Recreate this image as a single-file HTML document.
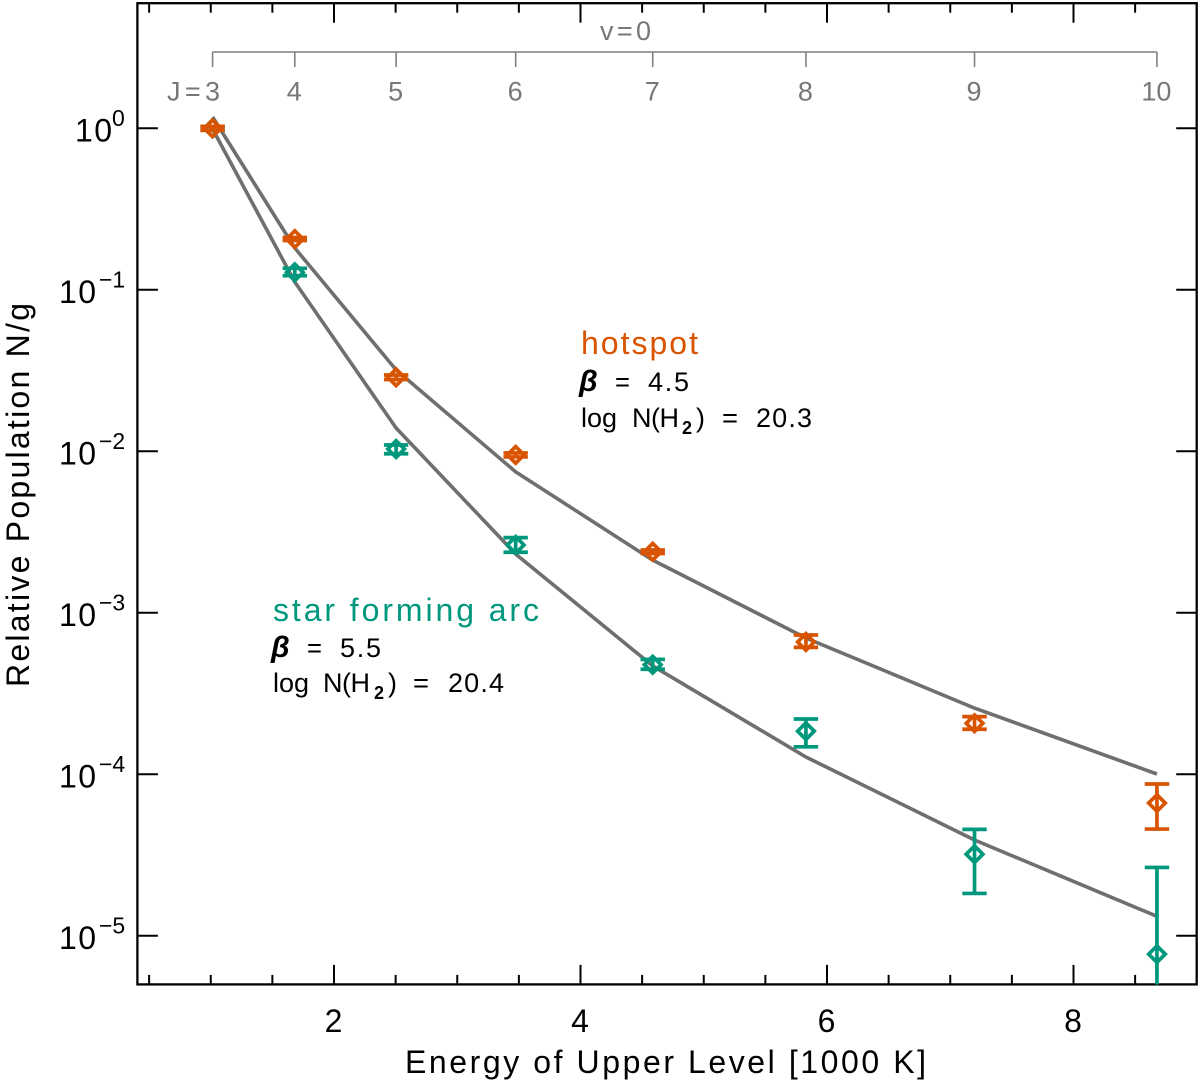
<!DOCTYPE html>
<html lang="en">
<head>
<meta charset="utf-8">
<title>H2 relative population chart</title>
<style>
html,body{margin:0;padding:0;background:#fff;width:1200px;height:1082px;overflow:hidden}
svg{display:block}
text{font-family:"Liberation Sans",sans-serif}
</style>
</head>
<body>
<svg id="chart" xmlns="http://www.w3.org/2000/svg" width="1200" height="1082" viewBox="0 0 1200 1082">
  <defs>
    <clipPath id="plot-clip"><rect x="137" y="3" width="1060" height="981.5"></rect></clipPath>
  </defs>
  <rect x="137.4" y="3.2" width="1059.3" height="981.2" fill="none" stroke="#000" stroke-width="2.3"></rect>
  <g id="ticks"></g>
  <g id="tick-labels"></g>
  <g id="j-scale"></g>
  <text x="600" y="40" font-size="27" fill="#777" textLength="51" lengthAdjust="spacing">v=0</text>
  <g id="models" clip-path="url(#plot-clip)"></g>
  <g id="points" clip-path="url(#plot-clip)"></g>

  <text x="405" y="1073" font-size="32" fill="#000" textLength="521" lengthAdjust="spacing">Energy of Upper Level [1000 K]</text>
  <text transform="translate(29,687) rotate(-90)" font-size="32" fill="#000" textLength="384" lengthAdjust="spacing">Relative Population N/g</text>

  <g>
    <text x="581" y="354" font-size="32" fill="#d95400" textLength="117" lengthAdjust="spacing">hotspot</text>
    <text x="579" y="391" font-size="30" font-weight="bold" font-style="italic" font-family="Liberation Serif" fill="#000">β</text>
    <text x="615" y="391" font-size="27" fill="#000" textLength="15" lengthAdjust="spacingAndGlyphs">=</text>
    <text x="648" y="391" font-size="27" fill="#000" textLength="41" lengthAdjust="spacing">4.5</text>
    <text x="581" y="427" font-size="27" fill="#000" textLength="36" lengthAdjust="spacing">log</text>
    <text x="632" y="427" font-size="27" fill="#000" textLength="47" lengthAdjust="spacing">N(H</text>
    <text x="682" y="434" font-size="18" fill="#000" font-weight="bold">2</text>
    <text x="696" y="427" font-size="27" fill="#000">)</text>
    <text x="722" y="427" font-size="27" fill="#000" textLength="16" lengthAdjust="spacingAndGlyphs">=</text>
    <text x="756" y="427" font-size="27" fill="#000" textLength="56" lengthAdjust="spacing">20.3</text>
  </g>

  <g>
    <text x="273" y="621" font-size="32" fill="#00987d" textLength="266" lengthAdjust="spacing">star forming arc</text>
    <text x="271" y="657" font-size="30" font-weight="bold" font-style="italic" font-family="Liberation Serif" fill="#000">β</text>
    <text x="307" y="657" font-size="27" fill="#000" textLength="15" lengthAdjust="spacingAndGlyphs">=</text>
    <text x="340" y="657" font-size="27" fill="#000" textLength="41" lengthAdjust="spacing">5.5</text>
    <text x="273" y="692" font-size="27" fill="#000" textLength="36" lengthAdjust="spacing">log</text>
    <text x="323" y="692" font-size="27" fill="#000" textLength="47" lengthAdjust="spacing">N(H</text>
    <text x="374" y="699" font-size="18" fill="#000" font-weight="bold">2</text>
    <text x="388" y="692" font-size="27" fill="#000">)</text>
    <text x="413" y="692" font-size="27" fill="#000" textLength="16" lengthAdjust="spacingAndGlyphs">=</text>
    <text x="448" y="692" font-size="27" fill="#000" textLength="56" lengthAdjust="spacing">20.4</text>
  </g>
</svg>

<script>
// Chart data
const energies = [1.015, 1.682, 2.504, 3.474, 4.586, 5.829, 7.197, 8.677];
const jLevels = ['3', '4', '5', '6', '7', '8', '9', '10'];
const xMajorTicks = [2, 4, 6, 8];
const xMinorTicks = [0.5, 1, 1.5, 2.5, 3, 3.5, 4.5, 5, 5.5, 6.5, 7, 7.5, 8.5];
const xTickLabels = ['2', '4', '6', '8'];
const yDecades = [1, 1e-1, 1e-2, 1e-3, 1e-4, 1e-5];
const yExponentLabels = ['0', '\u22121', '\u22122', '\u22123', '\u22124', '\u22125'];

const hotspotValues = [1, 0.206, 0.0287, 0.0095, 0.00239, 6.6e-4, 2.07e-4, 6.64e-5];
const hotspotLow = [0.973, 0.2019, 0.02783, 0.00923, 0.00233, 6.11e-4, 1.9e-4, 4.58e-5];
const hotspotHigh = [1.028, 0.2108, 0.02967, 0.00977, 0.00245, 7.29e-4, 2.275e-4, 8.71e-5];
const hotspotModel = [1.175, 0.1815, 0.0319, 0.00745, 0.00212, 6.98e-4, 2.57e-4, 1.004e-4];

const arcValues = [1, 0.1283, 0.01033, 0.00263, 4.77e-4, 1.85e-4, 3.2e-5, 7.7e-6];
const arcLow = [0.973, 0.1223, 0.00966, 0.00237, 4.47e-4, 1.48e-4, 1.83e-5, 1e-6];
const arcHigh = [1.028, 0.1358, 0.01094, 0.00292, 5.15e-4, 2.2e-4, 4.56e-5, 2.65e-5];
const arcModel = [0.99, 0.1117, 0.01394, 0.00231, 4.69e-4, 1.28e-4, 3.92e-5, 1.32e-5];

// Axis functions
function xScale(v) { return 334 + (v - 2) * 123.25; }
function yScale(v) { return 128.3 - 161.5 * Math.log10(v); }

const SVG_NS = 'http://www.w3.org/2000/svg';
function mk(tag, attrs, parent) {
  const el = document.createElementNS(SVG_NS, tag);
  for (const k in attrs) el.setAttribute(k, attrs[k]);
  parent.appendChild(el);
  return el;
}

const gTicks = document.getElementById('ticks');
const gLabels = document.getElementById('tick-labels');
const gScale = document.getElementById('j-scale');
const gModels = document.getElementById('models');
const gPoints = document.getElementById('points');

const TOP = 3.2, BOTTOM = 984.4, LEFT = 137.4, RIGHT = 1196.7;

function xTick(v, len, name) {
  const x = xScale(v);
  const bottom = mk('line', {x1: x, x2: x, y1: BOTTOM, y2: BOTTOM - len, stroke: '#000', 'stroke-width': 2}, gTicks);
  
  
  const top = mk('line', {x1: x, x2: x, y1: TOP, y2: TOP + len, stroke: '#000', 'stroke-width': 2}, gTicks);
  
  
}
xMajorTicks.forEach(function (v) { xTick(v, 19.5, 'x-major-tick'); });
xMinorTicks.forEach(function (v) { xTick(v, 9.5, 'x-minor-tick'); });

xMajorTicks.forEach(function (v, i) {
  const t = mk('text', {x: xScale(v) - 0.5, y: 1032, 'font-size': 32, fill: '#000', 'text-anchor': 'middle'}, gLabels);
  
  
  t.textContent = xTickLabels[i];
});

yDecades.forEach(function (v, i) {
  const y = yScale(v);
  const left = mk('line', {x1: LEFT, x2: LEFT + 20.5, y1: y, y2: y, stroke: '#000', 'stroke-width': 2}, gTicks);
  
  
  const right = mk('line', {x1: RIGHT - 20.5, x2: RIGHT, y1: y, y2: y, stroke: '#000', 'stroke-width': 2}, gTicks);
  
  

  const isZero = i === 0;
  const base = mk('text', {x: isZero ? 75 : 59, y: y + 13.2, 'font-size': 32, fill: '#000', textLength: 37, lengthAdjust: 'spacing'}, gLabels);
  
  
  base.textContent = '10';
  const exp = mk('text', {x: isZero ? 112 : 99, y: y - 2.5, 'font-size': 23, fill: '#000'}, gLabels);
  
  
  exp.textContent = yExponentLabels[i];
});

// Rotational level scale across the top
const scaleLine = mk('line', {x1: xScale(energies[0]), x2: xScale(energies[energies.length - 1]), y1: 52, y2: 52, stroke: '#808080', 'stroke-width': 1.6}, gScale);


energies.forEach(function (e, i) {
  const x = xScale(e);
  const tick = mk('line', {x1: x, x2: x, y1: 52, y2: 67, stroke: '#808080', 'stroke-width': 1.6}, gScale);
  
  
  const attrs = i === 0
    ? {x: 167, y: 100.5, 'font-size': 27, fill: '#777', textLength: 53, lengthAdjust: 'spacing'}
    : {x: x - 0.5, y: 100.5, 'font-size': 27, fill: '#777', 'text-anchor': 'middle'};
  const label = mk('text', attrs, gScale);
  
  
  label.textContent = (i === 0 ? 'J=' : '') + jLevels[i];
});

// Model curves
function drawModel(values, name) {
  const pts = values.map(function (v, i) { return xScale(energies[i]).toFixed(1) + ',' + yScale(v).toFixed(1); }).join(' ');
  const line = mk('polyline', {points: pts, fill: 'none', stroke: '#6f6f6f', 'stroke-width': 3.6, 'stroke-linejoin': 'round'}, gModels);
  
  
}
drawModel(arcModel, 'star-forming-arc-model-line');
drawModel(hotspotModel, 'hotspot-model-line');

// Data points with error bars
function drawSeries(values, low, high, color, name) {
  values.forEach(function (v, i) {
    const x = xScale(energies[i]);
    const y = yScale(v);
    const yLo = yScale(low[i]);
    const yHi = yScale(high[i]);
    const g = mk('g', {stroke: color, 'stroke-width': 3.7, fill: 'none'}, gPoints);
    
    
    const bar = mk('line', {x1: x, x2: x, y1: yHi, y2: yLo}, g);
    
    
    const capHi = mk('line', {x1: x - 12.2, x2: x + 12.2, y1: yHi, y2: yHi}, g);
    
    
    const capLo = mk('line', {x1: x - 12.2, x2: x + 12.2, y1: yLo, y2: yLo}, g);
    
    
    const d = 8.3;
    const marker = mk('polygon', {points: [x - d, y, x, y - d, x + d, y, x, y + d].join(' ')}, g);
    
    
  });
}
drawSeries(arcValues, arcLow, arcHigh, '#00987d', 'star-forming-arc');
drawSeries(hotspotValues, hotspotLow, hotspotHigh, '#d95400', 'hotspot');
</script>
</body>
</html>
